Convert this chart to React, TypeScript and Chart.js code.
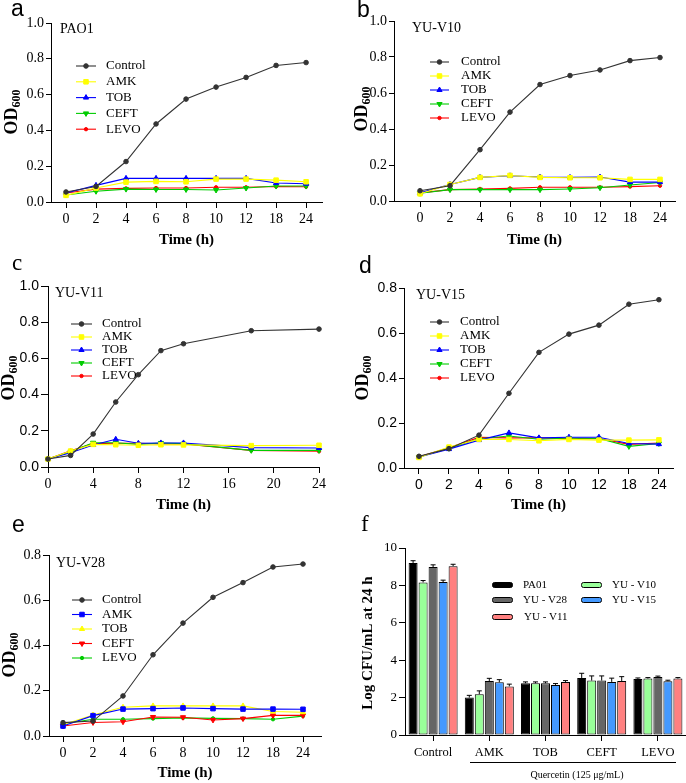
import React, { useEffect, useRef } from 'react';
import { Chart, registerables } from 'chart.js';
import { drawPoint } from 'chart.js/helpers';
Chart.register(...registerables);

const SERIF = "'Liberation Serif', 'Times New Roman', serif";
const SANS = "'Liberation Sans', Arial, sans-serif";
Chart.defaults.font.family = SERIF;
Chart.defaults.color = '#000';

// ---------- data ----------
const timeLabels = ['0', '2', '4', '6', '8', '10', '12', '18', '24'];
const timeHours = [0, 2, 4, 6, 8, 10, 12, 18, 24];
const hourTicksC = [0, 4, 8, 12, 16, 20, 24];
const yTicks10 = [0, 0.2, 0.4, 0.6, 0.8, 1.0];
const yTicks08 = [0, 0.2, 0.4, 0.6, 0.8];
const seriesNames = ['Control', 'AMK', 'TOB', 'CEFT', 'LEVO'];

const a_control = [0.056, 0.087, 0.226, 0.436, 0.575, 0.642, 0.696, 0.763, 0.779];
const a_amk = [0.037, 0.078, 0.111, 0.115, 0.113, 0.128, 0.128, 0.122, 0.113];
const a_tob = [0.05, 0.093, 0.132, 0.132, 0.132, 0.132, 0.132, 0.106, 0.102];
const a_ceft = [0.039, 0.06, 0.072, 0.07, 0.07, 0.067, 0.078, 0.089, 0.089];
const a_levo = [0.05, 0.072, 0.076, 0.078, 0.078, 0.082, 0.082, 0.087, 0.085];

const b_control = [0.057, 0.085, 0.285, 0.494, 0.647, 0.697, 0.728, 0.78, 0.797];
const b_amk = [0.04, 0.092, 0.131, 0.142, 0.131, 0.129, 0.129, 0.12, 0.12];
const b_tob = [0.045, 0.092, 0.131, 0.14, 0.133, 0.131, 0.133, 0.105, 0.105];
const b_ceft = [0.043, 0.063, 0.063, 0.063, 0.063, 0.067, 0.074, 0.089, 0.103];
const b_levo = [0.045, 0.063, 0.067, 0.07, 0.076, 0.076, 0.076, 0.08, 0.085];

const c_control = [0.044, 0.064, 0.182, 0.359, 0.51, 0.643, 0.681, 0.753, 0.762];
const c_amk = [0.044, 0.088, 0.125, 0.123, 0.12, 0.123, 0.122, 0.118, 0.12];
const c_tob = [0.044, 0.079, 0.122, 0.153, 0.131, 0.133, 0.133, 0.107, 0.105];
const c_ceft = [0.044, 0.085, 0.134, 0.134, 0.125, 0.133, 0.129, 0.092, 0.092];
const c_levo = [0.044, 0.09, 0.129, 0.131, 0.131, 0.127, 0.127, 0.092, 0.087];

const d_control = [0.052, 0.086, 0.146, 0.332, 0.514, 0.595, 0.635, 0.728, 0.748];
const d_amk = [0.047, 0.093, 0.128, 0.127, 0.121, 0.127, 0.124, 0.124, 0.125];
const d_tob = [0.049, 0.084, 0.124, 0.156, 0.134, 0.137, 0.137, 0.109, 0.106];
const d_ceft = [0.049, 0.088, 0.13, 0.142, 0.128, 0.133, 0.131, 0.096, 0.109];
const d_levo = [0.05, 0.09, 0.136, 0.134, 0.134, 0.13, 0.131, 0.105, 0.111];

const e_control = [0.059, 0.066, 0.177, 0.359, 0.499, 0.613, 0.678, 0.747, 0.76];
const e_amk = [0.044, 0.09, 0.119, 0.121, 0.124, 0.121, 0.119, 0.119, 0.118];
const e_tob = [0.05, 0.093, 0.127, 0.133, 0.133, 0.133, 0.133, 0.108, 0.105];
const e_ceft = [0.044, 0.06, 0.063, 0.084, 0.083, 0.071, 0.077, 0.091, 0.091];
const e_levo = [0.054, 0.074, 0.074, 0.077, 0.08, 0.078, 0.077, 0.074, 0.088];

const fCategories = ['Control', 'AMK', 'TOB', 'CEFT', 'LEVO'];
const fTicks = [0, 2, 4, 6, 8, 10];
const fStrains = ['PA01', 'YU - V10', 'YU - V28', 'YU - V15', 'YU - V11'];
const f_pa01 = [9.2, 2.0, 2.77, 3.05, 3.0];
const f_v10 = [8.16, 2.18, 2.77, 2.91, 3.02];
const f_v28 = [8.98, 2.89, 2.77, 2.91, 3.1];
const f_v15 = [8.18, 2.82, 2.68, 2.84, 2.88];
const f_v11 = [9.03, 2.6, 2.84, 2.89, 3.02];
const f_pa01_err = [0.12, 0.12, 0.07, 0.25, 0.05];
const f_v10_err = [0.1, 0.18, 0.07, 0.25, 0.05];
const f_v28_err = [0.12, 0.14, 0.07, 0.25, 0.05];
const f_v15_err = [0.1, 0.14, 0.07, 0.2, 0.05];
const f_v11_err = [0.1, 0.12, 0.07, 0.23, 0.05];

// ---------- styles ----------
const STD_STYLES = [
  { color: '#333333', style: 'circle', radius: 2.3, rot: 0 },
  { color: '#ffff00', style: 'rect', radius: 3.2, rot: 0 },
  { color: '#0000ff', style: 'triangle', radius: 3, rot: 0 },
  { color: '#00cc00', style: 'triangle', radius: 3, rot: 180 },
  { color: '#ff0000', style: 'circle', radius: 1.7, rot: 0 },
];
const E_STYLES = [
  { color: '#333333', style: 'circle', radius: 2.3, rot: 0 },
  { color: '#0000ff', style: 'rect', radius: 3.2, rot: 0 },
  { color: '#ffff00', style: 'triangle', radius: 3, rot: 0 },
  { color: '#ff0000', style: 'triangle', radius: 3, rot: 180 },
  { color: '#00cc00', style: 'circle', radius: 1.7, rot: 0 },
];
const F_COLORS = ['#000000', '#99ff99', '#666666', '#4499ff', '#ff8080'];

// ---------- decoration plugin ----------
function makeDecor(d: any) {
  return {
    id: 'decor',
    afterDraw(chart: any) {
      const ctx = chart.ctx;
      ctx.save();
      ctx.translate(-d.ox, -d.oy);
      for (const t of d.texts || []) {
        ctx.save();
        ctx.font = t.font;
        ctx.fillStyle = '#000';
        ctx.textAlign = t.align || 'left';
        ctx.textBaseline = t.baseline || 'alphabetic';
        ctx.fillText(t.text, t.x, t.y);
        ctx.restore();
      }
      if (d.yTitle) {
        const yt = d.yTitle;
        ctx.save();
        ctx.translate(yt.x, yt.y);
        ctx.rotate(-Math.PI / 2);
        ctx.fillStyle = '#000';
        ctx.textAlign = 'left';
        ctx.textBaseline = 'alphabetic';
        ctx.font = yt.font;
        const w1 = ctx.measureText(yt.main).width;
        let w2 = 0;
        if (yt.sub) {
          ctx.font = yt.subFont;
          w2 = ctx.measureText(yt.sub).width;
        }
        const start = -(w1 + w2) / 2;
        ctx.font = yt.font;
        ctx.fillText(yt.main, start, 0);
        if (yt.sub) {
          ctx.font = yt.subFont;
          ctx.fillText(yt.sub, start + w1, yt.drop);
        }
        ctx.restore();
      }
      for (const l of d.lines || []) {
        ctx.save();
        ctx.strokeStyle = '#000';
        ctx.lineWidth = 1;
        ctx.beginPath();
        ctx.moveTo(l.x1, l.y1);
        ctx.lineTo(l.x2, l.y2);
        ctx.stroke();
        ctx.restore();
      }
      if (d.lineLegend) {
        const lg = d.lineLegend;
        chart.data.datasets.forEach((ds: any, i: number) => {
          const y = lg.y0 + i * lg.dy;
          ctx.save();
          ctx.strokeStyle = ds.borderColor;
          ctx.lineWidth = ds.borderWidth;
          ctx.beginPath();
          ctx.moveTo(lg.x0, y);
          ctx.lineTo(lg.x1, y);
          ctx.stroke();
          ctx.fillStyle = ds.pointBackgroundColor;
          ctx.strokeStyle = ds.pointBorderColor;
          ctx.lineWidth = 1;
          drawPoint(ctx, { pointStyle: ds.pointStyle, rotation: ds.pointRotation, radius: ds.pointRadius, borderWidth: 1 }, (lg.x0 + lg.x1) / 2, y);
          ctx.font = lg.font;
          ctx.fillStyle = '#000';
          ctx.textAlign = 'left';
          ctx.textBaseline = 'middle';
          ctx.fillText(ds.label, lg.tx, y);
          ctx.restore();
        });
      }
      if (d.boxLegend) {
        const lg = d.boxLegend;
        chart.data.datasets.forEach((ds: any, i: number) => {
          const it = lg.items[i];
          ctx.save();
          ctx.fillStyle = ds.backgroundColor;
          ctx.strokeStyle = '#000';
          ctx.lineWidth = 1;
          ctx.beginPath();
          ctx.roundRect(it.x + 0.5, it.y - 2.5, lg.w, 5, 2);
          ctx.fill();
          ctx.stroke();
          ctx.font = lg.font;
          ctx.fillStyle = '#000';
          ctx.textAlign = 'left';
          ctx.textBaseline = 'middle';
          ctx.fillText(ds.label, it.tx, it.y);
          ctx.restore();
        });
      }
      ctx.restore();
    },
  };
}

const errorBarPlugin = {
  id: 'errbars',
  afterDatasetsDraw(chart: any) {
    const ctx = chart.ctx;
    const yScale = chart.scales.y;
    chart.data.datasets.forEach((ds: any, di: number) => {
      const meta = chart.getDatasetMeta(di);
      meta.data.forEach((el: any, i: number) => {
        const v = ds.data[i];
        const e = ds.errors[i];
        const yTop = yScale.getPixelForValue(v + e);
        ctx.save();
        ctx.strokeStyle = '#000';
        ctx.lineWidth = 1;
        ctx.beginPath();
        ctx.moveTo(el.x, el.y);
        ctx.lineTo(el.x, yTop);
        ctx.moveTo(el.x - 2.5, yTop);
        ctx.lineTo(el.x + 2.5, yTop);
        ctx.stroke();
        ctx.restore();
      });
    });
  },
};

// ---------- panel layout ----------
const linePanels: any[] = [
  {
    key: 'a', box: { left: 0, top: 0, w: 343, h: 250 }, area: { L: 51, R: 322, T: 23, B: 202 },
    mode: 'index', xMin: -0.5, xMax: 8.53, yMax: 1.0, yTicks: yTicks10,
    xFont: SERIF, yFont: SERIF, tlx: 6, tly: 5, padx: 3, pady: 2,
    series: [a_control, a_amk, a_tob, a_ceft, a_levo], styles: STD_STYLES,
    letter: { text: 'a', x: 11, y: 16, font: `23px ${SANS}` },
    strain: { text: 'PAO1', x: 60, y: 33 },
    yTitle: { x: 17, y: 112 }, xTitleY: 240,
    legend: { x0: 76, x1: 96, tx: 106, y0: 66, dy: 15.8 },
  },
  {
    key: 'b', box: { left: 343, top: 0, w: 343, h: 250 }, area: { L: 394, R: 675, T: 21, B: 201 },
    mode: 'index', xMin: -0.867, xMax: 8.5, yMax: 1.0, yTicks: yTicks10,
    xFont: SERIF, yFont: SERIF, tlx: 6, tly: 5, padx: 3, pady: 2,
    series: [b_control, b_amk, b_tob, b_ceft, b_levo], styles: STD_STYLES,
    letter: { text: 'b', x: 357, y: 17, font: `23px ${SANS}` },
    strain: { text: 'YU-V10', x: 412, y: 32 },
    yTitle: { x: 367, y: 109 }, xTitleY: 240,
    legend: { x0: 430, x1: 449, tx: 461, y0: 62, dy: 14 },
  },
  {
    key: 'c', box: { left: 0, top: 250, w: 343, h: 262 }, area: { L: 48, R: 319, T: 286, B: 467 },
    mode: 'hours', xMin: 0, xMax: 24, yMax: 1.0, yTicks: yTicks10,
    xFont: SERIF, yFont: SANS, tlx: 6, tly: 7, padx: 3, pady: 2,
    series: [c_control, c_amk, c_tob, c_ceft, c_levo], styles: STD_STYLES,
    letter: { text: 'c', x: 12, y: 270, font: `23px ${SERIF}` },
    strain: { text: 'YU-V11', x: 55, y: 297 },
    yTitle: { x: 14, y: 378 }, xTitleY: 505,
    legend: { x0: 71, x1: 92, tx: 102, y0: 324, dy: 13 },
  },
  {
    key: 'd', box: { left: 343, top: 250, w: 343, h: 262 }, area: { L: 404, R: 673, T: 288, B: 468 },
    mode: 'index', xMin: -0.5, xMax: 8.47, yMax: 0.8, yTicks: yTicks08,
    xFont: SANS, yFont: SANS, tlx: 6, tly: 5, padx: 3, pady: 2,
    series: [d_control, d_amk, d_tob, d_ceft, d_levo], styles: STD_STYLES,
    letter: { text: 'd', x: 359, y: 273, font: `23px ${SANS}` },
    strain: { text: 'YU-V15', x: 416, y: 299 },
    yTitle: { x: 368, y: 378 }, xTitleY: 505,
    legend: { x0: 430, x1: 449, tx: 460, y0: 322, dy: 14 },
  },
  {
    key: 'e', box: { left: 0, top: 512, w: 343, h: 271 }, area: { L: 49, R: 321, T: 555, B: 736 },
    mode: 'index', xMin: -0.467, xMax: 8.6, yMax: 0.8, yTicks: yTicks08,
    xFont: SERIF, yFont: SERIF, tlx: 6, tly: 6, padx: 3, pady: 2,
    series: [e_control, e_amk, e_tob, e_ceft, e_levo], styles: E_STYLES,
    letter: { text: 'e', x: 12, y: 532, font: `23px ${SANS}` },
    strain: { text: 'YU-V28', x: 56, y: 567 },
    yTitle: { x: 15, y: 655 }, xTitleY: 773,
    legend: { x0: 72, x1: 92, tx: 102, y0: 600, dy: 14.5 },
  },
];

const barPanel = {
  box: { left: 343, top: 512, w: 343, h: 271 }, area: { L: 405, R: 686, T: 548, B: 735 },
};

function buildLineConfig(p: any) {
  const ticksX = p.mode === 'index' ? timeLabels.map((_, i) => i) : hourTicksC;
  const datasets = p.series.map((vals: number[], si: number) => {
    const st = p.styles[si];
    return {
      label: seriesNames[si],
      data: vals.map((v, i) => ({ x: p.mode === 'index' ? i : timeHours[i], y: v })),
      borderColor: st.color,
      backgroundColor: st.color,
      borderWidth: 1.1,
      pointStyle: st.style,
      pointRotation: st.rot,
      pointRadius: st.radius,
      pointBackgroundColor: st.color,
      pointBorderColor: st.color,
      pointBorderWidth: 1,
      tension: 0,
      clip: false,
    };
  });
  const { box, area } = p;
  const decor = makeDecor({
    ox: box.left, oy: box.top,
    texts: [
      { ...p.letter },
      { text: p.strain.text, x: p.strain.x, y: p.strain.y, font: `14px ${SERIF}` },
      { text: 'Time (h)', x: (area.L + area.R) / 2, y: p.xTitleY, font: `bold 15px ${SERIF}`, align: 'center', baseline: 'middle' },
    ],
    yTitle: { x: p.yTitle.x, y: p.yTitle.y, main: 'OD', sub: '600', font: `bold 18px ${SERIF}`, subFont: `bold 12px ${SERIF}`, drop: 3 },
    lineLegend: { ...p.legend, font: `13px ${SERIF}` },
  });
  const xTickFont = { family: p.xFont, size: 14 };
  const yTickFont = { family: p.yFont, size: 14 };
  return {
    type: 'line',
    data: { datasets },
    options: {
      responsive: false,
      animation: false,
      events: [],
      layout: {
        autoPadding: false,
        padding: { left: 0, top: area.T - box.top, right: box.left + box.w - area.R, bottom: 0 },
      },
      plugins: { legend: { display: false }, tooltip: { enabled: false } },
      scales: {
        x: {
          type: 'linear', min: p.xMin, max: p.xMax,
          afterBuildTicks: (s: any) => { s.ticks = ticksX.map((v: number) => ({ value: v })); },
          afterFit: (s: any) => { s.height = box.top + box.h - area.B; },
          ticks: {
            callback: (v: number) => (p.mode === 'index' ? timeLabels[v] : String(v)),
            font: xTickFont, color: '#000', padding: p.padx, maxRotation: 0, autoSkip: false,
          },
          grid: { display: true, drawOnChartArea: false, drawTicks: true, tickLength: p.tlx, tickColor: '#000', tickWidth: 1 },
          border: { display: true, color: '#000', width: 1 },
        },
        y: {
          type: 'linear', min: 0, max: p.yMax,
          afterBuildTicks: (s: any) => { s.ticks = p.yTicks.map((v: number) => ({ value: v })); },
          afterFit: (s: any) => { s.width = area.L - box.left; },
          ticks: {
            callback: (v: number) => v.toFixed(1),
            font: yTickFont, color: '#000', padding: p.pady,
          },
          grid: { display: true, drawOnChartArea: false, drawTicks: true, tickLength: p.tly, tickColor: '#000', tickWidth: 1 },
          border: { display: true, color: '#000', width: 1 },
        },
      },
    },
    plugins: [decor],
  };
}

function buildBarConfig() {
  const { box, area } = barPanel;
  const vals = [f_pa01, f_v10, f_v28, f_v15, f_v11];
  const errs = [f_pa01_err, f_v10_err, f_v28_err, f_v15_err, f_v11_err];
  const datasets = vals.map((v, i) => ({
    label: fStrains[i],
    data: v,
    errors: errs[i],
    backgroundColor: F_COLORS[i],
    borderColor: '#000',
    borderWidth: 1,
    borderSkipped: false,
    categoryPercentage: 0.89,
    barPercentage: 0.9,
  }));
  const decor = makeDecor({
    ox: box.left, oy: box.top,
    texts: [
      { text: 'f', x: 361, y: 531, font: `23px ${SERIF}` },
      { text: 'Quercetin (125 μg/mL)', x: 577, y: 775, font: `10px ${SERIF}`, align: 'center', baseline: 'middle' },
    ],
    lines: [{ x1: 470, y1: 762.5, x2: 676, y2: 762.5 }],
    yTitle: { x: 372, y: 643, main: 'Log CFU/mL at 24 h', font: `bold 15px ${SERIF}` },
    boxLegend: {
      w: 20, font: `11px ${SERIF}`,
      items: [
        { x: 492, y: 585, tx: 523 },
        { x: 581, y: 585, tx: 612 },
        { x: 492, y: 600, tx: 523 },
        { x: 581, y: 600, tx: 612 },
        { x: 492, y: 617, tx: 524 },
      ],
    },
  });
  return {
    type: 'bar',
    data: { labels: fCategories, datasets },
    options: {
      responsive: false,
      animation: false,
      events: [],
      layout: {
        autoPadding: false,
        padding: { left: 0, top: area.T - box.top, right: box.left + box.w - area.R, bottom: 0 },
      },
      plugins: { legend: { display: false }, tooltip: { enabled: false } },
      scales: {
        x: {
          type: 'category', offset: true,
          afterFit: (s: any) => { s.height = box.top + box.h - area.B; },
          ticks: { font: { family: SERIF, size: 12.5 }, color: '#000', padding: 4, maxRotation: 0, autoSkip: false },
          grid: { display: true, offset: false, drawOnChartArea: false, drawTicks: true, tickLength: 6, tickColor: '#000', tickWidth: 1 },
          border: { display: true, color: '#000', width: 1 },
        },
        y: {
          type: 'linear', min: 0, max: 10,
          afterBuildTicks: (s: any) => { s.ticks = fTicks.map((v) => ({ value: v })); },
          afterFit: (s: any) => { s.width = area.L - box.left; },
          ticks: { font: { family: SERIF, size: 13 }, color: '#000', padding: 2 },
          grid: { display: true, drawOnChartArea: false, drawTicks: true, tickLength: 6, tickColor: '#000', tickWidth: 1 },
          border: { display: true, color: '#000', width: 1 },
        },
      },
    },
    plugins: [decor, errorBarPlugin],
  };
}

function ChartCanvas({ box, build }: { box: any; build: () => any }) {
  const ref = useRef<HTMLCanvasElement | null>(null);
  useEffect(() => {
    if (!ref.current) return;
    const chart = new Chart(ref.current, build());
    return () => chart.destroy();
  }, []);
  return (
    <canvas
      ref={ref}
      width={box.w}
      height={box.h}
      style={{ position: 'absolute', left: box.left, top: box.top, width: box.w, height: box.h }}
    />
  );
}

export default function App() {
  return (
    <div style={{ position: 'fixed', left: 0, top: 0, width: 686, height: 783, background: '#fff', overflow: 'hidden' }}>
      {linePanels.map((p) => (
        <ChartCanvas key={p.key} box={p.box} build={() => buildLineConfig(p)} />
      ))}
      <ChartCanvas box={barPanel.box} build={buildBarConfig} />
    </div>
  );
}
